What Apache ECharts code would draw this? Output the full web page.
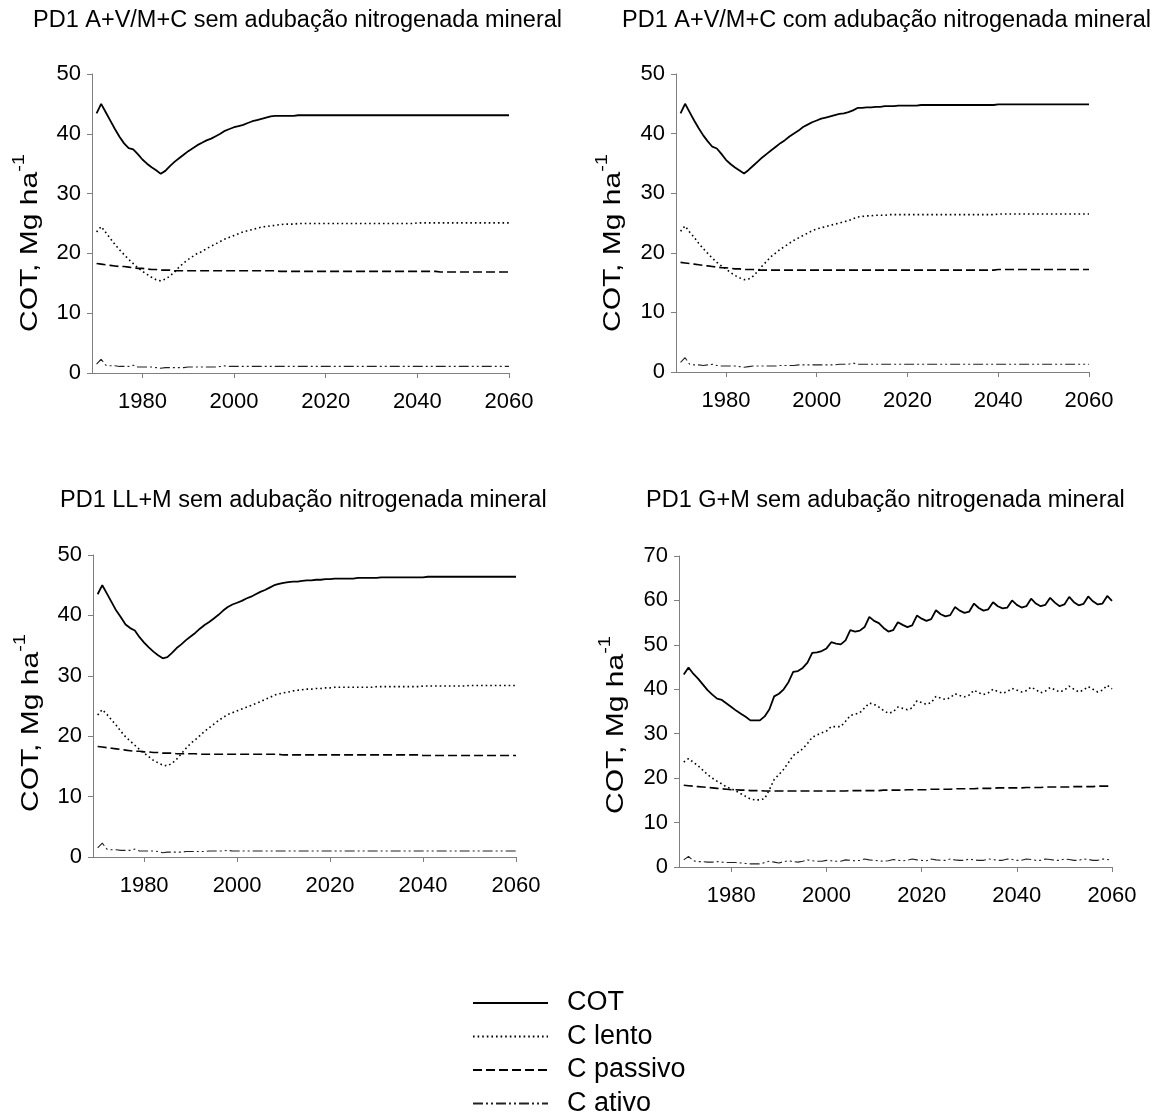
<!DOCTYPE html>
<html>
<head>
<meta charset="utf-8">
<script src="https://cdn.jsdelivr.net/npm/echarts@6/dist/echarts.min.js"></script>
<style>
html,body{margin:0;padding:0;background:#fff;}
#chart{width:1162px;height:1118px;}
</style>
</head>
<body>
<div id="chart"></div>
<script>
// ---------- DATA ----------
const years = [1970,1971,1972,1973,1974,1975,1976,1977,1978,1979,
1980,1981,1982,1983,1984,1985,1986,1987,1988,1989,
1990,1991,1992,1993,1994,1995,1996,1997,1998,1999,
2000,2001,2002,2003,2004,2005,2006,2007,2008,2009,
2010,2011,2012,2013,2014,2015,2016,2017,2018,2019,
2020,2021,2022,2023,2024,2025,2026,2027,2028,2029,
2030,2031,2032,2033,2034,2035,2036,2037,2038,2039,
2040,2041,2042,2043,2044,2045,2046,2047,2048,2049,
2050,2051,2052,2053,2054,2055,2056,2057,2058,2059,2060];

const xTickLabels = [1980, 2000, 2020, 2040, 2060];
const seriesNames = ['COT', 'C lento', 'C passivo', 'C ativo'];
const panelTitles = [
  'PD1 A+V/M+C sem adubação nitrogenada mineral',
  'PD1 A+V/M+C com adubação nitrogenada mineral',
  'PD1 LL+M sem adubação nitrogenada mineral',
  'PD1 G+M sem adubação nitrogenada mineral'
];
const yAxisTitleMain = 'COT, Mg ha';
const yAxisTitleSup = '-1';
const yMax = [50, 50, 50, 70];

// Panel 1: A+V/M+C sem N
const p1COT = [43.4,45.0,43.6,42.2,40.8,39.5,38.4,37.6,37.4,36.6,
35.7,35.0,34.4,33.9,33.3,33.8,34.6,35.3,35.9,36.5,
37.1,37.6,38.1,38.5,38.9,39.2,39.6,40.0,40.5,40.8,
41.1,41.3,41.5,41.8,42.1,42.3,42.5,42.7,42.9,43.0,
43.0,43.0,43.0,43.0,43.1,43.1,43.1,43.1,43.1,43.1,
43.1,43.1,43.1,43.1,43.1,43.1,43.1,43.1,43.1,43.1,
43.1,43.1,43.1,43.1,43.1,43.1,43.1,43.1,43.1,43.1,
43.1,43.1,43.1,43.1,43.1,43.1,43.1,43.1,43.1,43.1,
43.1,43.1,43.1,43.1,43.1,43.1,43.1,43.1,43.1,43.1,43.1];
const p1Lento = [23.6,24.5,23.5,22.5,21.5,20.6,19.8,19.0,18.3,17.6,
17.0,16.5,16.0,15.6,15.4,15.7,16.2,16.9,17.7,18.4,
19.0,19.5,20.0,20.3,20.8,21.2,21.6,22.0,22.4,22.7,
23.0,23.3,23.6,23.8,24.0,24.2,24.4,24.5,24.6,24.7,
24.8,24.9,24.9,24.9,25.0,25.0,25.0,25.0,25.0,25.0,
25.0,25.0,25.0,25.0,25.0,25.0,25.0,25.0,25.0,25.0,
25.0,25.0,25.0,25.0,25.0,25.0,25.0,25.0,25.0,25.0,
25.1,25.1,25.1,25.1,25.1,25.1,25.1,25.1,25.1,25.1,
25.1,25.1,25.1,25.1,25.1,25.1,25.1,25.1,25.1,25.1,25.1];
const p1Passivo = [18.3,18.2,18.1,18.0,17.9,17.8,17.8,17.7,17.6,17.5,
17.5,17.4,17.3,17.3,17.2,17.2,17.2,17.1,17.1,17.1,
17.1,17.1,17.1,17.1,17.1,17.1,17.1,17.1,17.1,17.1,
17.1,17.1,17.1,17.1,17.1,17.1,17.1,17.1,17.1,17.1,
17.0,17.0,17.0,17.0,17.0,17.0,17.0,17.0,17.0,17.0,
17.0,17.0,17.0,17.0,17.0,17.0,17.0,17.0,17.0,17.0,
17.0,17.0,17.0,17.0,17.0,17.0,17.0,17.0,17.0,17.0,
17.0,17.0,17.0,17.0,17.0,16.9,16.9,16.9,16.9,16.9,
16.9,16.9,16.9,16.9,16.9,16.9,16.9,16.9,16.9,16.9,16.9];
const p1Ativo = [1.5,2.3,1.3,1.2,1.2,1.1,1.1,1.1,1.3,1.0,
1.0,1.0,1.0,0.9,0.8,0.9,0.9,0.9,0.9,0.9,
1.0,1.0,1.0,1.0,1.0,1.0,1.0,1.1,1.2,1.1,
1.1,1.1,1.1,1.1,1.1,1.1,1.1,1.1,1.1,1.1,
1.1,1.1,1.1,1.1,1.1,1.1,1.1,1.1,1.1,1.1,
1.1,1.1,1.1,1.1,1.1,1.1,1.1,1.1,1.1,1.1,
1.1,1.1,1.1,1.1,1.1,1.1,1.1,1.1,1.1,1.1,
1.1,1.1,1.1,1.1,1.1,1.1,1.1,1.1,1.1,1.1,
1.1,1.1,1.1,1.1,1.1,1.1,1.1,1.1,1.1,1.1,1.1];

// Panel 2: A+V/M+C com N
const p2COT = [43.4,45.0,43.6,42.2,40.9,39.7,38.7,37.8,37.5,36.6,
35.6,34.9,34.3,33.8,33.3,33.9,34.6,35.3,36.0,36.6,
37.2,37.8,38.4,38.9,39.5,40.0,40.5,41.1,41.5,41.9,
42.2,42.5,42.7,42.9,43.1,43.3,43.4,43.6,43.9,44.3,
44.3,44.4,44.4,44.5,44.5,44.6,44.6,44.6,44.7,44.7,
44.7,44.7,44.7,44.8,44.8,44.8,44.8,44.8,44.8,44.8,
44.8,44.8,44.8,44.8,44.8,44.8,44.8,44.8,44.8,44.8,
44.9,44.9,44.9,44.9,44.9,44.9,44.9,44.9,44.9,44.9,
44.9,44.9,44.9,44.9,44.9,44.9,44.9,44.9,44.9,44.9,44.9];
const p2Lento = [23.6,24.5,23.5,22.6,21.6,20.7,19.9,19.1,18.4,17.8,
17.3,16.7,16.2,15.8,15.5,15.6,16.1,16.9,17.8,18.6,
19.4,20.0,20.6,21.1,21.6,22.1,22.5,22.9,23.3,23.7,
24.0,24.2,24.4,24.6,24.8,25.0,25.2,25.4,25.7,26.0,
26.1,26.2,26.2,26.3,26.3,26.3,26.4,26.4,26.4,26.4,
26.4,26.4,26.4,26.4,26.4,26.4,26.4,26.4,26.4,26.4,
26.4,26.4,26.4,26.4,26.4,26.4,26.4,26.4,26.4,26.4,
26.5,26.5,26.5,26.5,26.5,26.5,26.5,26.5,26.5,26.5,
26.5,26.5,26.5,26.5,26.5,26.5,26.5,26.5,26.5,26.5,26.5];
const p2Passivo = [18.4,18.3,18.2,18.1,18.0,17.9,17.8,17.7,17.6,17.5,
17.5,17.4,17.3,17.3,17.2,17.2,17.2,17.1,17.1,17.1,
17.1,17.1,17.1,17.1,17.1,17.1,17.1,17.1,17.1,17.1,
17.1,17.1,17.1,17.1,17.1,17.1,17.1,17.1,17.1,17.1,
17.1,17.1,17.1,17.1,17.1,17.1,17.1,17.1,17.1,17.1,
17.1,17.1,17.1,17.1,17.1,17.1,17.1,17.1,17.1,17.1,
17.1,17.1,17.1,17.1,17.1,17.1,17.1,17.1,17.1,17.1,
17.2,17.2,17.2,17.2,17.2,17.2,17.2,17.2,17.2,17.2,
17.2,17.2,17.2,17.2,17.2,17.2,17.2,17.2,17.2,17.2,17.2];
const p2Ativo = [1.6,2.4,1.3,1.2,1.2,1.1,1.2,1.3,1.1,1.0,
1.0,1.0,1.0,0.9,0.8,0.9,1.0,1.0,1.0,1.0,
1.0,1.0,1.1,1.1,1.1,1.1,1.2,1.2,1.2,1.2,
1.2,1.2,1.2,1.2,1.2,1.3,1.3,1.3,1.5,1.3,
1.3,1.3,1.3,1.3,1.3,1.3,1.3,1.3,1.3,1.3,
1.3,1.3,1.3,1.3,1.3,1.3,1.3,1.3,1.3,1.3,
1.3,1.3,1.3,1.3,1.3,1.3,1.3,1.3,1.3,1.3,
1.3,1.3,1.3,1.3,1.3,1.3,1.3,1.3,1.3,1.3,
1.3,1.3,1.3,1.3,1.3,1.3,1.3,1.3,1.3,1.3,1.3];

// Panel 3: LL+M sem N
const p3COT = [43.5,45.0,43.6,42.2,40.8,39.7,38.5,37.9,37.5,36.4,
35.5,34.7,34.0,33.4,32.9,33.1,33.8,34.6,35.2,35.9,
36.5,37.1,37.8,38.4,38.9,39.5,40.1,40.8,41.4,41.8,
42.1,42.4,42.8,43.1,43.5,43.9,44.2,44.6,45.0,45.2,
45.4,45.5,45.6,45.6,45.7,45.8,45.8,45.9,45.9,46.0,
46.0,46.1,46.1,46.1,46.1,46.1,46.2,46.2,46.2,46.2,
46.2,46.3,46.3,46.3,46.3,46.3,46.3,46.3,46.3,46.3,
46.3,46.4,46.4,46.4,46.4,46.4,46.4,46.4,46.4,46.4,
46.4,46.4,46.4,46.4,46.4,46.4,46.4,46.4,46.4,46.4,46.4];
const p3Lento = [23.5,24.4,23.6,22.7,21.8,20.8,19.9,19.2,18.5,17.8,
17.2,16.6,16.0,15.6,15.2,15.1,15.5,16.2,17.1,18.0,
18.8,19.4,20.1,20.8,21.4,22.0,22.6,23.1,23.6,23.9,
24.2,24.5,24.8,25.1,25.4,25.7,26.1,26.4,26.8,27.0,
27.2,27.3,27.5,27.6,27.7,27.8,27.8,27.9,27.9,28.0,
28.0,28.1,28.1,28.1,28.1,28.1,28.1,28.1,28.1,28.1,
28.2,28.2,28.2,28.2,28.2,28.2,28.2,28.2,28.2,28.2,
28.3,28.3,28.3,28.3,28.3,28.3,28.3,28.3,28.3,28.3,
28.4,28.4,28.4,28.4,28.4,28.4,28.4,28.4,28.4,28.4,28.4];
const p3Passivo = [18.3,18.2,18.1,18.0,17.9,17.8,17.7,17.6,17.5,17.5,
17.4,17.4,17.3,17.3,17.2,17.2,17.2,17.1,17.1,17.1,
17.1,17.1,17.0,17.0,17.0,17.0,17.0,17.0,17.0,17.0,
17.0,17.0,17.0,17.0,17.0,17.0,17.0,17.0,17.0,17.0,
16.9,16.9,16.9,16.9,16.9,16.9,16.9,16.9,16.9,16.9,
16.9,16.9,16.9,16.9,16.9,16.9,16.9,16.9,16.9,16.9,
16.9,16.9,16.9,16.9,16.9,16.9,16.9,16.9,16.9,16.9,
16.8,16.8,16.8,16.8,16.8,16.8,16.8,16.8,16.8,16.8,
16.8,16.8,16.8,16.8,16.8,16.8,16.8,16.8,16.8,16.8,16.8];
const p3Ativo = [1.5,2.3,1.3,1.2,1.2,1.1,1.1,1.1,1.3,1.0,
1.0,1.0,1.0,0.9,0.7,0.8,0.8,0.8,0.8,0.9,
0.9,0.9,0.9,0.9,1.0,1.0,1.0,1.0,1.1,1.0,
1.0,1.0,1.0,1.0,1.0,1.0,1.0,1.0,1.0,1.0,
1.0,1.0,1.0,1.0,1.0,1.0,1.0,1.0,1.0,1.0,
1.0,1.0,1.0,1.0,1.0,1.0,1.0,1.0,1.0,1.0,
1.0,1.0,1.0,1.0,1.0,1.0,1.0,1.0,1.0,1.0,
1.0,1.0,1.0,1.0,1.0,1.0,1.0,1.0,1.0,1.0,
1.0,1.0,1.0,1.0,1.0,1.0,1.0,1.0,1.0,1.0,1.0];

// Panel 4: G+M sem N
const p4COT = [43.3,44.9,43.5,42.4,41.1,39.8,38.8,37.9,37.6,36.8,
36.0,35.2,34.5,33.8,33.0,33.0,33.0,33.9,35.5,38.4,
39.0,40.0,41.6,43.9,44.1,44.8,46.0,48.2,48.3,48.6,
49.2,50.6,50.3,50.1,51.0,53.3,53.0,53.2,54.0,56.3,
55.4,54.9,53.8,53.0,53.3,55.1,54.5,54.0,54.4,56.6,
55.9,55.4,55.8,57.8,56.9,56.4,56.7,58.5,57.7,57.2,
57.5,59.3,58.3,57.7,58.0,59.6,58.7,58.2,58.4,60.0,
59.0,58.4,58.7,60.4,59.3,58.7,59.0,60.6,59.5,58.7,
59.1,60.8,59.6,58.9,59.2,60.9,59.8,59.1,59.3,61.0,59.9];
const p4Lento = [23.6,24.4,23.6,22.8,21.8,20.8,20.0,19.3,18.7,18.0,
17.6,17.1,16.5,15.9,15.3,15.1,15.1,15.4,17.4,19.7,
20.8,22.0,23.5,25.1,25.8,26.6,27.8,29.2,29.7,30.2,
30.6,31.6,31.6,31.6,32.8,34.1,34.4,34.7,35.8,36.9,
36.6,36.0,35.2,34.6,34.9,36.0,35.7,35.4,35.8,37.4,
37.0,36.6,37.0,38.4,38.0,37.7,38.1,39.0,38.6,38.3,
38.7,39.8,39.2,38.8,39.2,40.0,39.5,39.1,39.5,40.2,
39.8,39.4,39.7,40.5,39.9,39.2,39.6,40.4,39.9,39.4,
39.8,40.7,40.0,39.4,39.8,40.6,40.0,39.4,39.8,40.9,40.1];
const p4Passivo = [18.4,18.3,18.2,18.1,18.0,17.9,17.8,17.7,17.6,17.5,
17.4,17.4,17.3,17.3,17.2,17.2,17.2,17.1,17.1,17.1,
17.1,17.1,17.1,17.1,17.1,17.1,17.1,17.1,17.1,17.1,
17.1,17.1,17.1,17.1,17.1,17.2,17.2,17.2,17.2,17.2,
17.2,17.2,17.3,17.3,17.3,17.3,17.3,17.4,17.4,17.4,
17.4,17.4,17.5,17.5,17.5,17.5,17.5,17.6,17.6,17.6,
17.6,17.6,17.7,17.7,17.7,17.7,17.8,17.8,17.8,17.8,
17.8,17.8,17.9,17.9,17.9,17.9,18.0,18.0,18.0,18.0,
18.0,18.0,18.1,18.1,18.1,18.1,18.1,18.2,18.2,18.2,18.2];
const p4Ativo = [1.6,2.4,1.4,1.2,1.2,1.1,1.1,1.2,1.1,1.0,
1.0,1.0,0.9,0.8,0.7,0.7,0.7,1.0,1.3,1.1,
0.9,1.2,1.4,1.2,1.1,1.3,1.6,1.4,1.3,1.3,
1.5,1.4,1.3,1.3,1.6,1.5,1.4,1.5,1.8,1.6,
1.5,1.4,1.3,1.4,1.7,1.5,1.4,1.5,1.8,1.6,
1.5,1.4,1.8,1.6,1.5,1.5,1.8,1.6,1.5,1.5,
1.8,1.6,1.5,1.5,1.8,1.7,1.5,1.5,1.8,1.7,
1.5,1.5,1.8,1.7,1.5,1.5,1.8,1.7,1.5,1.5,
1.8,1.7,1.5,1.5,1.8,1.7,1.5,1.5,1.8,1.7,1.5];

const panels = [
  [p1COT, p1Lento, p1Passivo, p1Ativo],
  [p2COT, p2Lento, p2Passivo, p2Ativo],
  [p3COT, p3Lento, p3Passivo, p3Ativo],
  [p4COT, p4Lento, p4Passivo, p4Ativo]
];

// ---------- LAYOUT / STYLE ----------
const FONT = '"Liberation Sans", Arial, Helvetica, sans-serif';
const gridBoxes = [
  {left: 92,  top: 74,  width: 417, height: 299},
  {left: 676, top: 74,  width: 413, height: 298},
  {left: 93,  top: 555, width: 423, height: 302},
  {left: 679, top: 556, width: 433, height: 311}
];
const titlePos = [
  {left: 33, top: 9}, {left: 622, top: 9}, {left: 60, top: 489}, {left: 646, top: 489}
];
const yNamePos = [[27, 243], [610, 243], [28, 723], [613, 725]];
const lineStyles = [
  {color: '#000', width: 1.8, type: 'solid'},
  {color: '#000', width: 1.6, type: [1.6, 3]},
  {color: '#000', width: 1.6, type: [9, 4]},
  {color: '#222', width: 1.1, type: [10, 3, 2, 3, 2, 3]}
];
const axisColor = '#7f7f7f';

const grid = gridBoxes.map(g => Object.assign({containLabel: false}, g));
const xAxis = gridBoxes.map((g, i) => ({
  type: 'value', gridIndex: i, min: 1969, max: 2060,
  axisLine: {show: true, onZero: false, lineStyle: {color: axisColor, width: 1}},
  axisTick: {show: true, length: 5, customValues: xTickLabels, lineStyle: {color: axisColor}},
  axisLabel: {customValues: xTickLabels, formatter: v => String(v), fontSize: 22, color: '#000', fontFamily: FONT, margin: 18},
  splitLine: {show: false}
}));
const yAxis = gridBoxes.map((g, i) => ({
  type: 'value', gridIndex: i, min: 0, max: yMax[i], interval: 10,
  axisLine: {show: true, lineStyle: {color: axisColor, width: 1}},
  axisTick: {show: true, length: 5, lineStyle: {color: axisColor}},
  axisLabel: {fontSize: 22, color: '#000', fontFamily: FONT, margin: 11},
  splitLine: {show: false}
}));
const title = panelTitles.map((t, i) => ({
  text: t, left: titlePos[i].left, top: titlePos[i].top, padding: 0,
  textStyle: {fontSize: 23.5, fontWeight: 'normal', color: '#000', fontFamily: FONT}
}));
const graphic = yNamePos.map(p => ({
  type: 'text', x: p[0], y: p[1], rotation: Math.PI / 2, scaleX: 1.25, scaleY: 1,
  silent: true,
  style: {
    x: 0, y: 0,
    text: '{a|' + yAxisTitleMain + '}{b|' + yAxisTitleSup + '}',
    align: 'center', verticalAlign: 'middle',
    textAlign: 'center', textVerticalAlign: 'middle',
    fill: '#000',
    rich: {
      a: {fontSize: 24, fontFamily: FONT, fill: '#000', color: '#000', lineHeight: 30, verticalAlign: 'bottom'},
      b: {fontSize: 16, fontFamily: FONT, fill: '#000', color: '#000', lineHeight: 30, verticalAlign: 'top', padding: [0, 0, 10, 0]}
    }
  }
}));

const series = [];
panels.forEach((vals, pi) => {
  vals.forEach((arr, si) => {
    series.push({
      type: 'line', name: seriesNames[si],
      xAxisIndex: pi, yAxisIndex: pi,
      symbol: 'none', showSymbol: false,
      lineStyle: lineStyles[si],
      itemStyle: {color: '#000'},
      data: years.map((y, k) => [y, arr[k]])
    });
  });
});

const chart = echarts.init(document.getElementById('chart'), null, {renderer: 'canvas'});
chart.setOption({
  animation: false,
  backgroundColor: '#fff',
  title: title,
  grid: grid,
  xAxis: xAxis,
  yAxis: yAxis,
  graphic: graphic,
  legend: {
    data: seriesNames,
    orient: 'vertical',
    left: 472, top: 989, height: 140,
    itemWidth: 75, itemHeight: 14, itemGap: 5.5,
    padding: 0,
    itemStyle: {opacity: 0},
    textStyle: {fontSize: 27, lineHeight: 28, color: '#000', fontFamily: FONT, padding: [0, 0, 0, 14]}
  },
  series: series
});
</script>
</body>
</html>
